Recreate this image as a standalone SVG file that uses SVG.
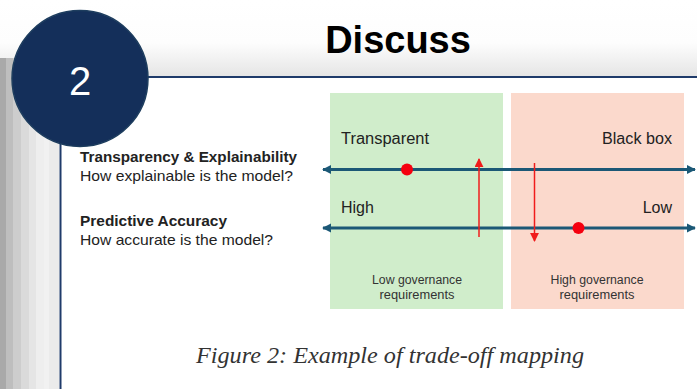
<svg xmlns="http://www.w3.org/2000/svg" width="697" height="389" viewBox="0 0 697 389">
  <defs>
    <linearGradient id="hdr" x1="0" y1="0" x2="0" y2="1">
      <stop offset="0" stop-color="#ffffff"/>
      <stop offset="0.55" stop-color="#fdfdfd"/>
      <stop offset="1" stop-color="#e4e4e4"/>
    </linearGradient>
    <marker id="axh" viewBox="0 0 10 10" refX="9" refY="5" markerWidth="3" markerHeight="3.2" orient="auto-start-reverse" markerUnits="strokeWidth">
      <path d="M0,0 L10,5 L0,10 z" fill="#1b5876"/>
    </marker>
    <marker id="redh" viewBox="0 0 10 10" refX="9" refY="5" markerWidth="6" markerHeight="6" orient="auto" markerUnits="strokeWidth">
      <path d="M0,0 L10,5 L0,10 z" fill="#f01c1c"/>
    </marker>
    <style>
      .lbl{font-family:"Liberation Sans",Arial,sans-serif;fill:#222;}
      .axis{stroke:#1b5876;stroke-width:3;fill:none;}
      .red{stroke:#f01c1c;stroke-width:1.5;fill:none;}
      .dot{fill:#f5000f;}
      .gov{font-family:"Liberation Sans",Arial,sans-serif;font-size:12px;fill:#333;text-anchor:middle;}
    </style>
  </defs>

  <!-- background -->
  <rect x="0" y="0" width="697" height="389" fill="#ffffff"/>
  <rect x="0" y="0" width="697" height="78" fill="url(#hdr)"/>
  <g id="left-strip">
    <rect x="0" y="58" width="6" height="331" fill="#a9a9a9"/>
    <rect x="6" y="58" width="7" height="331" fill="#bebebe"/>
    <rect x="13" y="58" width="8" height="331" fill="#cdcdcd"/>
    <rect x="21" y="58" width="8" height="331" fill="#dadada"/>
    <rect x="29" y="58" width="7" height="331" fill="#e5e5e5"/>
    <rect x="36" y="58" width="8" height="331" fill="#eeeeee"/>
    <rect x="44" y="58" width="5" height="331" fill="#f1f1f1"/>
    <rect x="49" y="58" width="10" height="331" fill="#ebebeb"/>
  </g>
  <rect x="60" y="78" width="637" height="311" fill="#ffffff"/>
  <line x1="60" y1="77" x2="697" y2="77" stroke="#1f3b6a" stroke-width="2"/>
  <line x1="60.5" y1="77" x2="60.5" y2="389" stroke="#1f3b6a" stroke-width="2"/>

  <g id="title">
    <text x="398" y="53" text-anchor="middle" font-family="Liberation Sans,Arial,sans-serif" font-weight="bold" font-size="38" fill="#000">Discuss</text>
  </g>

  <g id="badge">
    <circle cx="80" cy="78.5" r="68" fill="#142f5a" stroke="#1d3d5e" stroke-width="1.5"/>
    <text x="80" y="95" text-anchor="middle" font-family="Liberation Sans,Arial,sans-serif" font-size="40" fill="#ffffff">2</text>
  </g>

  <g id="zone-low">
    <rect x="330" y="93" width="173" height="216" fill="#d0edcb"/>
    <text class="gov" x="417" y="284" textLength="90" lengthAdjust="spacingAndGlyphs">Low governance</text>
    <text class="gov" x="417" y="299" textLength="75" lengthAdjust="spacingAndGlyphs">requirements</text>
  </g>
  <g id="zone-high">
    <rect x="511" y="93" width="173" height="216" fill="#fbd9cc"/>
    <text class="gov" x="597" y="284" textLength="93" lengthAdjust="spacingAndGlyphs">High governance</text>
    <text class="gov" x="597" y="299" textLength="75" lengthAdjust="spacingAndGlyphs">requirements</text>
  </g>

  <g id="row-transparency">
    <text class="lbl" x="80" y="162" font-size="14.5" font-weight="bold" fill="#111" textLength="217" lengthAdjust="spacingAndGlyphs">Transparency &amp; Explainability</text>
    <text class="lbl" x="80" y="181" font-size="14.5" textLength="213" lengthAdjust="spacingAndGlyphs">How explainable is the model?</text>
    <text class="lbl" x="341" y="144" font-size="16" textLength="88" lengthAdjust="spacingAndGlyphs">Transparent</text>
    <text class="lbl" x="672" y="144" font-size="16" text-anchor="end" textLength="70" lengthAdjust="spacingAndGlyphs">Black box</text>
  </g>
  <g id="row-accuracy">
    <text class="lbl" x="80" y="226" font-size="14.5" font-weight="bold" fill="#111" textLength="147" lengthAdjust="spacingAndGlyphs">Predictive Accuracy</text>
    <text class="lbl" x="80" y="245" font-size="14.5" textLength="193" lengthAdjust="spacingAndGlyphs">How accurate is the model?</text>
    <text class="lbl" x="341" y="213" font-size="16">High</text>
    <text class="lbl" x="672" y="213" font-size="16" text-anchor="end">Low</text>
  </g>

  <g id="connectors">
    <line class="axis" x1="323" y1="169.5" x2="695" y2="169.5" marker-start="url(#axh)" marker-end="url(#axh)"/>
    <line class="axis" x1="323" y1="228" x2="695" y2="228" marker-start="url(#axh)" marker-end="url(#axh)"/>
    <line class="red" x1="479" y1="237" x2="479" y2="159" marker-end="url(#redh)"/>
    <line class="red" x1="534.5" y1="163" x2="534.5" y2="241" marker-end="url(#redh)"/>
  </g>

  <g id="markers">
    <circle class="dot" cx="407" cy="169.5" r="6"/>
    <circle class="dot" cx="578.5" cy="228" r="6"/>
  </g>

  <g id="caption">
    <text x="390" y="363" text-anchor="middle" font-family="Liberation Serif,Times New Roman,serif" font-style="italic" font-size="24" fill="#333" textLength="388" lengthAdjust="spacingAndGlyphs">Figure 2: Example of trade-off mapping</text>
  </g>
</svg>
